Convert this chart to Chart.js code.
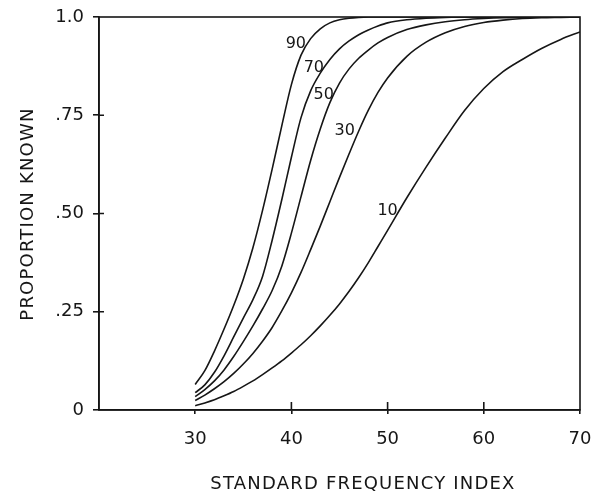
<!DOCTYPE html>
<html>
<head>
<meta charset="utf-8">
<script src="https://cdn.jsdelivr.net/npm/chart.js@4"></script>
<style>
 body {margin:0; background:#fff;}
 #wrap {position:relative; width:594px; height:493px;}
</style>
</head>
<body>
<div id="wrap"><canvas id="chartID"></canvas></div>
<script>
// standard frequency index (x) shared by all curves
var xValues=[30,31,32,33,34,35,36,37,38,39,40,41,42,43,44,45,46,47,48,49,50,52,54,56,58,60,62,64,66,68,70];
// proportion known, one array per curve
var curve90=[0.065,0.10,0.15,0.206,0.266,0.333,0.413,0.508,0.613,0.723,0.828,0.903,0.945,0.97,0.985,0.993,0.997,0.999,1,1,1,1,1,1,1,1,1,1,1,1,1];
var curve70=[0.044,0.064,0.096,0.138,0.186,0.234,0.281,0.34,0.432,0.535,0.643,0.744,0.812,0.857,0.892,0.919,0.939,0.955,0.967,0.977,0.985,0.993,0.997,0.999,1,1,1,1,1,1,1];
var curve50=[0.034,0.052,0.074,0.102,0.136,0.174,0.214,0.257,0.304,0.366,0.45,0.543,0.635,0.715,0.782,0.832,0.868,0.895,0.916,0.934,0.948,0.968,0.98,0.988,0.993,0.996,0.998,0.999,1,1,1];
var curve30=[0.024,0.038,0.054,0.072,0.093,0.117,0.144,0.175,0.21,0.252,0.298,0.35,0.408,0.468,0.53,0.592,0.652,0.71,0.763,0.808,0.845,0.9,0.936,0.96,0.976,0.986,0.992,0.996,0.998,0.999,1];
var curve10=[0.011,0.018,0.026,0.036,0.047,0.06,0.074,0.09,0.107,0.125,0.145,0.166,0.189,0.214,0.241,0.27,0.302,0.337,0.375,0.416,0.457,0.54,0.618,0.692,0.762,0.818,0.861,0.892,0.92,0.943,0.962];
var curveNames=['90','70','50','30','10'];
// where each curve number is written (data units)
var labelX=[40.46,42.33,43.36,45.55,50.0];
var labelY=[0.931,0.870,0.802,0.710,0.507];
var xTicks=[30,40,50,60,70];
var yTicks=[0,0.25,0.5,0.75,1];
var yTickLabels=['0','.25','.50','.75','1.0'];
var xTitle='STANDARD FREQUENCY INDEX';
var yTitle='PROPORTION KNOWN';

var ink='#161616';
var fontName='"DejaVu Sans", sans-serif';

function toPoints(vals) {
 var pts=[];
 for (var i=0; i<xValues.length; i++) {pts.push({x:xValues[i], y:vals[i]});}
 return pts;
}

var allCurves=[curve90,curve70,curve50,curve30,curve10];
var sets=[];
for (var i=0; i<allCurves.length; i++) {
 sets.push({label:curveNames[i], data:toPoints(allCurves[i]), borderColor:ink, borderWidth:1.6,
  pointRadius:0, fill:false, cubicInterpolationMode:'monotone'});
}

// box, inner tick marks, curve numbers and axis titles
var extras={
 id:'extras',
 afterDraw(chart) {
  var ctx=chart.ctx, a=chart.chartArea;
  var xs=chart.scales.x, ys=chart.scales.y;
  ctx.save();
  ctx.strokeStyle=ink; ctx.lineWidth=1.6;
  ctx.strokeRect(a.left, a.top, a.right-a.left, a.bottom-a.top);
  ctx.beginPath();
  for (var i=1; i<yTicks.length-1; i++) {
   var py=ys.getPixelForValue(yTicks[i]);
   ctx.moveTo(a.left, py); ctx.lineTo(a.left+5, py);
  }
  for (var j=1; j<xTicks.length-1; j++) {
   var px=xs.getPixelForValue(xTicks[j]);
   ctx.moveTo(px, a.bottom); ctx.lineTo(px, a.bottom-8);
  }
  ctx.stroke();
  ctx.fillStyle=ink;
  ctx.font='16px '+fontName;
  ctx.textAlign='center'; ctx.textBaseline='middle';
  for (var k=0; k<curveNames.length; k++) {
   ctx.fillText(curveNames[k], xs.getPixelForValue(labelX[k]), ys.getPixelForValue(labelY[k]));
  }
  ctx.font='18px '+fontName;
  ctx.letterSpacing='1.2px';
  ctx.fillText(xTitle, 363, 484);
  ctx.translate(28, 214); ctx.rotate(-Math.PI/2);
  ctx.fillText(yTitle, 0, 0);
  ctx.restore();
 }
};

new Chart(document.getElementById('chartID'), {
 type:'line',
 data:{datasets:sets},
 options:{
  responsive:true, maintainAspectRatio:false, animation:false,
  layout:{padding:{top:17, right:14, left:0, bottom:0}},
  plugins:{legend:{display:false}, tooltip:{enabled:false}},
  scales:{
   x:{type:'linear', min:20, max:70,
    afterBuildTicks:function(s){s.ticks=xTicks.map(function(v){return {value:v};});},
    afterFit:function(s){s.height=83; s.paddingLeft=0; s.paddingRight=0;},
    grid:{drawOnChartArea:false, drawTicks:true, tickLength:4, color:ink, lineWidth:1.6},
    border:{color:ink, width:1.6},
    ticks:{color:ink, padding:15, maxRotation:0, font:{family:fontName, size:18}}
   },
   y:{type:'linear', min:0, max:1,
    afterBuildTicks:function(s){s.ticks=yTicks.map(function(v){return {value:v};});},
    afterFit:function(s){s.width=99; s.paddingTop=0; s.paddingBottom=0;},
    grid:{drawOnChartArea:false, drawTicks:true, tickLength:6, color:ink, lineWidth:1.6},
    border:{color:ink, width:1.6},
    ticks:{color:ink, padding:9, font:{family:fontName, size:18},
     callback:function(v,idx){return yTickLabels[idx];}}
   }
  }
 },
 plugins:[extras]
});
</script>
</body>
</html>
